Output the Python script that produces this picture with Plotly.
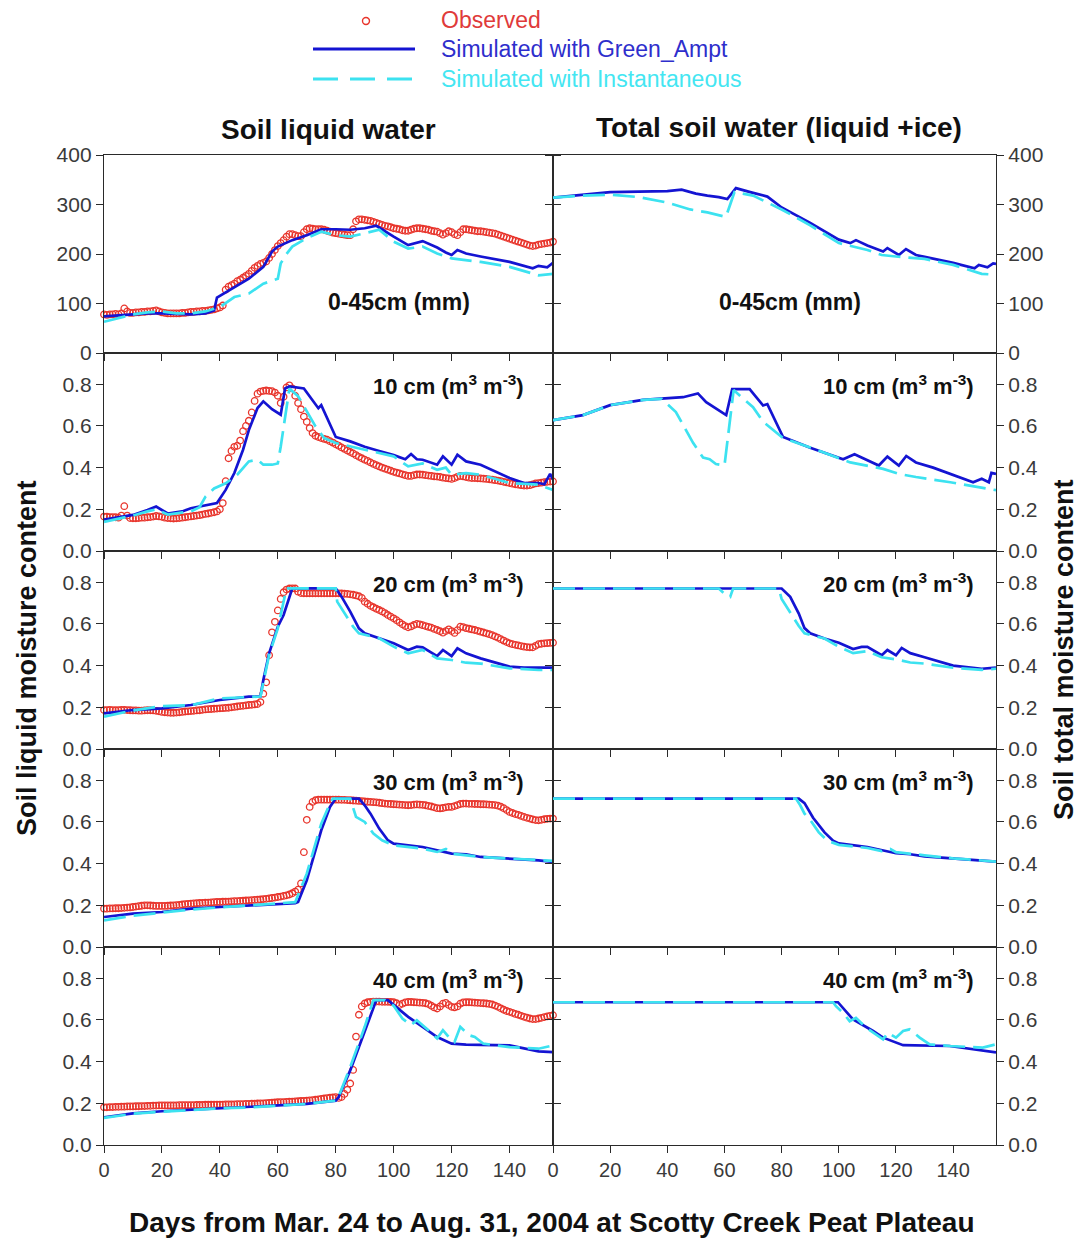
import plotly.graph_objects as go
from plotly.subplots import make_subplots

# ---------------------------------------------------------------
# Data: Scotty Creek Peat Plateau, days from Mar. 24 to Aug. 31, 2004
# ---------------------------------------------------------------
DAYS = list(range(156))

# Observed soil liquid water (daily)
OBS_0_45 = [
    78, 77, 78, 78, 79, 78, 80, 90, 84, 81,
    81, 82, 82, 83, 83, 84, 84, 85, 86, 84,
    82, 81, 80, 80, 80, 80, 80, 81, 81, 82,
    83, 83, 84, 84, 85, 85, 86, 87, 88, 90,
    92, 96, 128, 134, 137, 140, 145, 148, 152, 156,
    160, 166, 172, 176, 180, 182, 185, 192, 200, 208,
    216, 222, 228, 235, 240, 240, 238, 236, 236, 244,
    250, 252, 251, 250, 250, 250, 249, 247, 245, 243,
    242, 241, 240, 239, 238, 238, 250, 266, 270, 270,
    269, 268, 267, 265, 263, 261, 259, 257, 256, 254,
    252, 251, 250, 248, 247, 247, 249, 251, 252, 252,
    251, 250, 249, 247, 246, 245, 242, 239, 242, 246,
    244, 240, 238, 244, 250, 250, 249, 248, 247, 246,
    246, 245, 244, 243, 242, 241, 239, 237, 235, 233,
    231, 229, 227, 225, 223, 221, 219, 217, 216, 217,
    219, 220, 221, 222, 223, 225]

OBS_10 = [
    0.165, 0.165, 0.163, 0.163, 0.162, 0.160, 0.170, 0.215, 0.170, 0.158,
    0.157, 0.157, 0.158, 0.160, 0.160, 0.162, 0.163, 0.165, 0.168, 0.166,
    0.164, 0.160, 0.158, 0.157, 0.156, 0.157, 0.158, 0.160, 0.162, 0.164,
    0.166, 0.168, 0.170, 0.172, 0.175, 0.178, 0.180, 0.183, 0.186, 0.190,
    0.200, 0.230, 0.335, 0.445, 0.480, 0.500, 0.505, 0.530, 0.575, 0.600,
    0.625, 0.665, 0.720, 0.755, 0.765, 0.768, 0.770, 0.768, 0.767, 0.760,
    0.745, 0.710, 0.740, 0.785, 0.795, 0.780, 0.745, 0.710, 0.680, 0.645,
    0.620, 0.590, 0.566, 0.553, 0.547, 0.542, 0.538, 0.534, 0.527, 0.520,
    0.512, 0.505, 0.497, 0.490, 0.482, 0.475, 0.468, 0.460, 0.452, 0.445,
    0.438, 0.432, 0.425, 0.418, 0.412, 0.406, 0.400, 0.395, 0.390, 0.385,
    0.380, 0.376, 0.372, 0.368, 0.364, 0.360, 0.360, 0.364, 0.367, 0.367,
    0.366, 0.364, 0.362, 0.360, 0.358, 0.357, 0.355, 0.352, 0.350, 0.348,
    0.346, 0.350, 0.356, 0.360, 0.358, 0.355, 0.352, 0.350, 0.350, 0.349,
    0.348, 0.347, 0.346, 0.344, 0.342, 0.340, 0.338, 0.335, 0.332, 0.329,
    0.326, 0.323, 0.320, 0.318, 0.316, 0.314, 0.314, 0.316, 0.320, 0.324,
    0.326, 0.328, 0.330, 0.332, 0.333, 0.334]

OBS_20 = [
    0.187, 0.187, 0.188, 0.187, 0.186, 0.187, 0.188, 0.188, 0.187, 0.186,
    0.185, 0.185, 0.184, 0.184, 0.185, 0.186, 0.186, 0.185, 0.183, 0.181,
    0.178, 0.176, 0.175, 0.174, 0.174, 0.175, 0.176, 0.178, 0.180, 0.181,
    0.182, 0.183, 0.185, 0.186, 0.188, 0.190, 0.191, 0.192, 0.193, 0.194,
    0.195, 0.196, 0.197, 0.198, 0.200, 0.202, 0.204, 0.206, 0.207, 0.209,
    0.211, 0.212, 0.214, 0.216, 0.225, 0.265, 0.320, 0.450, 0.560, 0.610,
    0.665, 0.720, 0.752, 0.765, 0.770, 0.771, 0.770, 0.755, 0.748, 0.747,
    0.747, 0.747, 0.747, 0.747, 0.747, 0.747, 0.747, 0.747, 0.747, 0.747,
    0.747, 0.747, 0.746, 0.745, 0.744, 0.742, 0.740, 0.737, 0.733, 0.725,
    0.707, 0.697, 0.687, 0.680, 0.673, 0.667, 0.660, 0.652, 0.643, 0.635,
    0.627, 0.618, 0.608, 0.598, 0.590, 0.584, 0.588, 0.595, 0.600, 0.598,
    0.594, 0.590, 0.586, 0.582, 0.576, 0.571, 0.565, 0.558, 0.566, 0.574,
    0.566, 0.557, 0.570, 0.587, 0.585, 0.580, 0.577, 0.574, 0.571, 0.567,
    0.563, 0.559, 0.555, 0.551, 0.546, 0.540, 0.534, 0.527, 0.520, 0.513,
    0.507, 0.503, 0.500, 0.497, 0.494, 0.491, 0.489, 0.488, 0.488, 0.495,
    0.503, 0.505, 0.507, 0.508, 0.509, 0.510]

OBS_30 = [
    0.184, 0.184, 0.185, 0.185, 0.186, 0.186, 0.187, 0.188, 0.189, 0.190,
    0.192, 0.194, 0.196, 0.198, 0.200, 0.200, 0.199, 0.198, 0.197, 0.197,
    0.197, 0.197, 0.198, 0.199, 0.200, 0.201, 0.202, 0.204, 0.206, 0.207,
    0.208, 0.209, 0.210, 0.211, 0.212, 0.213, 0.213, 0.214, 0.215, 0.216,
    0.216, 0.217, 0.218, 0.218, 0.219, 0.220, 0.220, 0.221, 0.222, 0.223,
    0.224, 0.225, 0.226, 0.227, 0.228, 0.230, 0.231, 0.233, 0.235, 0.237,
    0.240, 0.242, 0.245, 0.248, 0.252, 0.258, 0.266, 0.275, 0.305, 0.455,
    0.610, 0.672, 0.696, 0.704, 0.707, 0.707, 0.707, 0.707, 0.707, 0.707,
    0.707, 0.707, 0.706, 0.706, 0.705, 0.704, 0.703, 0.702, 0.701, 0.700,
    0.698, 0.697, 0.696, 0.695, 0.694, 0.692, 0.690, 0.688, 0.687, 0.686,
    0.685, 0.684, 0.683, 0.682, 0.681, 0.680, 0.681, 0.683, 0.684, 0.683,
    0.682, 0.680, 0.677, 0.674, 0.670, 0.666, 0.665, 0.667, 0.670, 0.672,
    0.672, 0.676, 0.681, 0.686, 0.688, 0.688, 0.687, 0.687, 0.686, 0.686,
    0.685, 0.685, 0.684, 0.683, 0.682, 0.681, 0.678, 0.673, 0.666, 0.657,
    0.648, 0.643, 0.638, 0.634, 0.629, 0.624, 0.620, 0.616, 0.612, 0.609,
    0.608, 0.610, 0.613, 0.615, 0.616, 0.616]

OBS_40 = [
    0.181, 0.181, 0.182, 0.182, 0.183, 0.183, 0.184, 0.184, 0.185, 0.185,
    0.185, 0.186, 0.186, 0.187, 0.187, 0.188, 0.188, 0.189, 0.189, 0.190,
    0.190, 0.190, 0.190, 0.190, 0.190, 0.190, 0.191, 0.191, 0.191, 0.191,
    0.191, 0.191, 0.192, 0.192, 0.192, 0.193, 0.193, 0.193, 0.194, 0.194,
    0.194, 0.194, 0.195, 0.195, 0.195, 0.195, 0.196, 0.196, 0.196, 0.197,
    0.197, 0.198, 0.198, 0.199, 0.200, 0.200, 0.201, 0.202, 0.203, 0.204,
    0.205, 0.206, 0.206, 0.207, 0.208, 0.208, 0.209, 0.210, 0.211, 0.212,
    0.213, 0.214, 0.215, 0.217, 0.219, 0.221, 0.223, 0.225, 0.227, 0.228,
    0.230, 0.226, 0.230, 0.245, 0.265, 0.295, 0.360, 0.520, 0.625, 0.665,
    0.679, 0.685, 0.687, 0.688, 0.688, 0.688, 0.687, 0.687, 0.687, 0.686,
    0.685, 0.680, 0.672, 0.678, 0.684, 0.686, 0.686, 0.685, 0.684, 0.683,
    0.682, 0.680, 0.676, 0.668, 0.660, 0.655, 0.665, 0.678, 0.682, 0.672,
    0.663, 0.660, 0.665, 0.678, 0.684, 0.685, 0.685, 0.684, 0.683, 0.682,
    0.681, 0.680, 0.679, 0.677, 0.674, 0.669, 0.663, 0.656, 0.649, 0.643,
    0.639, 0.634, 0.629, 0.625, 0.620, 0.615, 0.611, 0.607, 0.604, 0.604,
    0.607, 0.610, 0.614, 0.617, 0.620, 0.623]

# Simulated with Green_Ampt (GA) and Instantaneous (INST) infiltration
# "LIQ" = soil liquid water, "TOT" = total soil water (liquid + ice)
GA_LIQ_0_45_DAY = [0, 5, 10, 15, 20, 25, 30, 35, 38, 39, 42, 45, 50, 55, 58, 60, 65, 70, 75,
                   80, 85, 90, 94, 100, 105, 110, 115, 118, 120, 122, 125, 130, 140, 148,
                   150, 153, 155]
GA_LIQ_0_45 = [74, 76, 78, 80, 80, 79, 78, 80, 86, 112, 122, 132, 150, 174, 205, 215, 228,
               238, 250, 250, 249, 252, 257, 235, 218, 226, 213, 203, 198, 208, 201, 195,
               184, 171, 176, 173, 182]
INST_LIQ_0_45_DAY = [0, 5, 10, 15, 20, 25, 30, 35, 40, 45, 50, 55, 58, 60, 61, 63, 65, 70,
                     75, 80, 85, 90, 95, 100, 105, 110, 115, 120, 125, 130, 140, 150, 155]
INST_LIQ_0_45 = [63, 70, 78, 82, 84, 80, 80, 84, 93, 113, 120, 140, 146, 150, 181, 200, 215,
                 232, 245, 238, 235, 242, 249, 225, 211, 215, 201, 191, 188, 184, 174, 157, 160]
GA_TOT_0_45_DAY = [0, 10, 20, 30, 40, 45, 50, 54, 58, 61, 63, 64, 69, 75, 80, 90, 100, 104,
                   106, 110, 115.5, 117, 121, 123.5, 127, 133, 140, 147.5, 149, 152, 154, 155]
GA_TOT_0_45 = [314, 320, 325, 326, 327, 330, 322, 318, 315, 311, 325, 333, 325, 316, 294,
               263, 229, 222, 228, 217, 205, 212, 198, 210, 198, 191, 182, 171, 178, 173,
               181, 180]
INST_TOT_0_45_DAY = [0, 10, 20, 30, 40, 48, 54, 60.5, 62, 63.5, 70, 80, 90, 100, 110, 115,
                     120, 130, 140, 150, 155]
INST_TOT_0_45 = [314, 318, 320, 315, 304, 290, 284, 275, 300, 325, 318, 290, 258, 222, 208,
                 198, 195, 190, 178, 160, 158]

GA_LIQ_10_DAY = [0, 5, 10, 15, 18, 22, 27, 30, 35, 39, 42, 45, 48, 50, 53, 55, 58, 61, 62.5,
                 64, 69, 73, 74, 75, 80, 85, 90, 95, 100, 104, 106, 108, 110, 115, 117, 120,
                 122, 125, 130, 140, 145, 150, 152, 154, 155]
GA_LIQ_10 = [0.150, 0.160, 0.173, 0.197, 0.213, 0.180, 0.190, 0.205, 0.220, 0.230, 0.293,
             0.374, 0.486, 0.580, 0.686, 0.718, 0.680, 0.654, 0.780, 0.790, 0.780, 0.700,
             0.685, 0.700, 0.547, 0.526, 0.500, 0.480, 0.460, 0.440, 0.465, 0.440, 0.438,
             0.414, 0.454, 0.414, 0.462, 0.430, 0.414, 0.350, 0.326, 0.326, 0.320, 0.370,
             0.342]
INST_LIQ_10_DAY = [0, 5, 10, 15, 18, 22, 30, 33, 35, 38, 42, 46, 50, 53, 55, 58, 60, 61,
                   62.5, 64, 67, 70, 73, 76, 80, 90, 100, 105, 110, 115, 118, 120, 125, 130,
                   140, 150, 155]
INST_LIQ_10 = [0.140, 0.155, 0.170, 0.190, 0.200, 0.175, 0.190, 0.210, 0.260, 0.300, 0.325,
               0.366, 0.430, 0.438, 0.414, 0.414, 0.420, 0.500, 0.646, 0.780, 0.743, 0.670,
               0.598, 0.542, 0.518, 0.486, 0.454, 0.406, 0.420, 0.390, 0.400, 0.366, 0.374,
               0.366, 0.326, 0.318, 0.293]
GA_TOT_10_DAY = [0, 10.5, 20, 31.5, 45.5, 50.7, 53.6, 60.6, 62.7, 68.8, 73.5, 75, 80.5, 90,
                 101.5, 105.5, 114, 117, 121, 123.6, 127, 133, 147, 150, 152.5, 153.4, 155]
GA_TOT_10 = [0.628, 0.652, 0.700, 0.725, 0.738, 0.756, 0.714, 0.652, 0.777, 0.777, 0.698,
             0.705, 0.547, 0.495, 0.440, 0.464, 0.410, 0.453, 0.410, 0.456, 0.425, 0.400,
             0.330, 0.347, 0.330, 0.375, 0.370]
INST_TOT_10_DAY = [0, 10.5, 20, 31.5, 38, 43, 49, 52.5, 54.8, 57, 60, 61.8, 63.2, 70, 73.5,
                   80.5, 92, 104, 115.5, 121, 127, 139, 148, 155]
INST_TOT_10 = [0.628, 0.652, 0.700, 0.725, 0.730, 0.667, 0.519, 0.448, 0.440, 0.417, 0.410,
               0.605, 0.772, 0.690, 0.620, 0.542, 0.487, 0.425, 0.394, 0.370, 0.355, 0.330,
               0.308, 0.292]

GA_LIQ_20_DAY = [0, 10, 20, 30, 40, 45, 50, 54, 55, 57, 60, 62, 65, 80, 82, 85, 88, 90, 95,
                 100, 105, 108, 110, 115, 117, 120, 122, 125, 130, 140, 145, 155]
GA_LIQ_20 = [0.171, 0.187, 0.195, 0.211, 0.235, 0.243, 0.251, 0.252, 0.331, 0.459, 0.587,
             0.643, 0.771, 0.771, 0.731, 0.659, 0.579, 0.555, 0.531, 0.507, 0.475, 0.491,
             0.488, 0.446, 0.475, 0.446, 0.483, 0.459, 0.435, 0.395, 0.390, 0.390]
INST_LIQ_20_DAY = [0, 10, 20, 30, 40, 50, 54, 57, 60, 63, 80, 80.5, 83, 86, 88, 95, 100, 105,
                   110, 115, 120, 125, 130, 140, 150, 155]
INST_LIQ_20 = [0.155, 0.185, 0.206, 0.210, 0.243, 0.250, 0.252, 0.451, 0.579, 0.771, 0.771,
               0.707, 0.651, 0.587, 0.555, 0.531, 0.491, 0.459, 0.475, 0.435, 0.427, 0.414,
               0.410, 0.387, 0.379, 0.379]
GA_TOT_20_DAY = [0, 80, 83, 86, 88, 90, 95, 100, 105, 108, 110, 115, 117, 120, 122, 125, 130,
                 140, 150, 155]
GA_TOT_20 = [0.770, 0.770, 0.730, 0.650, 0.580, 0.555, 0.530, 0.510, 0.480, 0.490, 0.490,
             0.450, 0.475, 0.450, 0.485, 0.460, 0.440, 0.400, 0.385, 0.390]
INST_TOT_20_DAY = [0, 58, 60, 62, 63, 79, 80, 83, 86, 88, 95, 100, 105, 110, 115, 120, 125,
                   130, 140, 150, 155]
INST_TOT_20 = [0.770, 0.770, 0.745, 0.730, 0.770, 0.770, 0.720, 0.655, 0.590, 0.555, 0.530,
               0.490, 0.460, 0.470, 0.440, 0.430, 0.415, 0.410, 0.390, 0.380, 0.385]

GA_LIQ_30_DAY = [0, 10, 20, 30, 40, 50, 60, 66, 67, 70, 75, 78, 80, 88, 90, 92, 95, 98, 100,
                 110, 120, 125, 130, 140, 150, 155]
GA_LIQ_30 = [0.144, 0.160, 0.168, 0.184, 0.192, 0.200, 0.208, 0.210, 0.216, 0.320, 0.560,
             0.672, 0.712, 0.712, 0.680, 0.640, 0.568, 0.512, 0.496, 0.480, 0.448, 0.445,
             0.432, 0.424, 0.416, 0.408]
INST_LIQ_30_DAY = [0, 10, 20, 30, 40, 50, 60, 66, 70, 75, 78, 79, 85, 86, 87, 90, 93, 96, 100,
                   110, 115, 118, 120, 130, 140, 155]
INST_LIQ_30 = [0.128, 0.150, 0.165, 0.180, 0.190, 0.200, 0.210, 0.215, 0.352, 0.592, 0.688,
               0.712, 0.712, 0.670, 0.624, 0.600, 0.544, 0.512, 0.488, 0.472, 0.456, 0.470,
               0.448, 0.432, 0.424, 0.413]
GA_TOT_30_DAY = [0, 86, 88, 91, 95, 98, 100, 110, 120, 125, 130, 140, 150, 155]
GA_TOT_30 = [0.712, 0.712, 0.690, 0.620, 0.550, 0.510, 0.497, 0.480, 0.450, 0.445, 0.435,
             0.425, 0.415, 0.410]
INST_TOT_30_DAY = [0, 85, 86.5, 88, 90, 93, 96, 100, 110, 115, 118, 120, 130, 140, 150, 155]
INST_TOT_30 = [0.712, 0.712, 0.680, 0.640, 0.610, 0.550, 0.510, 0.490, 0.475, 0.460, 0.470,
               0.455, 0.440, 0.425, 0.415, 0.410]

GA_LIQ_40_DAY = [0, 10, 20, 30, 40, 50, 60, 70, 80, 81, 85, 90, 94, 98, 100, 105, 110, 115,
                 120, 125, 140, 145, 150, 155]
GA_LIQ_40 = [0.133, 0.152, 0.162, 0.169, 0.177, 0.181, 0.190, 0.197, 0.213, 0.230, 0.358,
             0.550, 0.695, 0.695, 0.671, 0.615, 0.567, 0.518, 0.486, 0.482, 0.478, 0.462,
             0.449, 0.446]
INST_LIQ_40_DAY = [0, 10, 20, 30, 40, 50, 60, 70, 80, 81, 85, 90, 93, 97, 100, 103, 106, 108,
                   112, 115, 117, 119, 121, 123, 126, 128, 131, 140, 150, 155]
INST_LIQ_40 = [0.130, 0.150, 0.160, 0.168, 0.176, 0.180, 0.190, 0.197, 0.213, 0.232, 0.374,
               0.567, 0.695, 0.695, 0.668, 0.607, 0.575, 0.599, 0.551, 0.511, 0.551, 0.518,
               0.494, 0.567, 0.527, 0.518, 0.486, 0.470, 0.462, 0.478]
GA_TOT_40_DAY = [0, 99.7, 105, 112, 115.5, 122.5, 138.8, 150.4, 155]
GA_TOT_40 = [0.685, 0.685, 0.602, 0.547, 0.515, 0.479, 0.475, 0.452, 0.444]
INST_TOT_40_DAY = [0, 98, 99, 101.5, 103.8, 106, 109.6, 115.5, 117.2, 120, 122.5, 124.8,
                   128.3, 131.8, 138.8, 150.4, 155]
INST_TOT_40 = [0.685, 0.685, 0.666, 0.634, 0.594, 0.610, 0.563, 0.507, 0.539, 0.515, 0.547,
               0.555, 0.515, 0.483, 0.475, 0.467, 0.483]

DEPTH_LABELS = ["0-45cm (mm)", "10 cm (m<sup>3</sup> m<sup>-3</sup>)",
                "20 cm (m<sup>3</sup> m<sup>-3</sup>)", "30 cm (m<sup>3</sup> m<sup>-3</sup>)",
                "40 cm (m<sup>3</sup> m<sup>-3</sup>)"]
COLUMN_TITLES = ["Soil liquid water", "Total soil water (liquid +ice)"]
X_TICKS = [0, 20, 40, 60, 80, 100, 120, 140]
MM_TICKS = [0, 100, 200, 300, 400]
VWC_TICKS = [0.0, 0.2, 0.4, 0.6, 0.8]

OBSERVED = [OBS_0_45, OBS_10, OBS_20, OBS_30, OBS_40]
GA_LIQ = [(GA_LIQ_0_45_DAY, GA_LIQ_0_45), (GA_LIQ_10_DAY, GA_LIQ_10), (GA_LIQ_20_DAY, GA_LIQ_20),
          (GA_LIQ_30_DAY, GA_LIQ_30), (GA_LIQ_40_DAY, GA_LIQ_40)]
INST_LIQ = [(INST_LIQ_0_45_DAY, INST_LIQ_0_45), (INST_LIQ_10_DAY, INST_LIQ_10),
            (INST_LIQ_20_DAY, INST_LIQ_20), (INST_LIQ_30_DAY, INST_LIQ_30),
            (INST_LIQ_40_DAY, INST_LIQ_40)]
GA_TOT = [(GA_TOT_0_45_DAY, GA_TOT_0_45), (GA_TOT_10_DAY, GA_TOT_10), (GA_TOT_20_DAY, GA_TOT_20),
          (GA_TOT_30_DAY, GA_TOT_30), (GA_TOT_40_DAY, GA_TOT_40)]
INST_TOT = [(INST_TOT_0_45_DAY, INST_TOT_0_45), (INST_TOT_10_DAY, INST_TOT_10),
            (INST_TOT_20_DAY, INST_TOT_20), (INST_TOT_30_DAY, INST_TOT_30),
            (INST_TOT_40_DAY, INST_TOT_40)]

# ---------------------------------------------------------------
# Styling
# ---------------------------------------------------------------
RED = "#E8352C"
BLUE = "#1414D2"
CYAN = "#3CE2F0"
AXIS = "#2a2a2a"
TICKTXT = "#3a3a3a"
FONT = "Arial, Liberation Sans, sans-serif"
CYAN_DASH = "22px,8px"

W, H = 1080, 1242
ML, MR, MT, MB = 104, 84, 155, 97
PW, PH = W - ML - MR, H - MT - MB


def px_x(px):
    return (px - ML) / PW


def px_y(py):
    return (H - MB - py) / PH


fig = make_subplots(rows=5, cols=2, horizontal_spacing=0, vertical_spacing=0,
                    column_widths=[449, 443])

for r in range(5):
    row = r + 1
    # left column: liquid water, with observations
    fig.add_trace(go.Scatter(x=DAYS, y=OBSERVED[r], mode="markers", cliponaxis=False,
                             marker=dict(symbol="circle-open", size=6.5, color=RED,
                                         line=dict(width=1.3, color=RED)),
                             showlegend=False), row=row, col=1)
    fig.add_trace(go.Scatter(x=GA_LIQ[r][0], y=GA_LIQ[r][1], mode="lines",
                             line=dict(color=BLUE, width=2.7), showlegend=False),
                  row=row, col=1)
    fig.add_trace(go.Scatter(x=INST_LIQ[r][0], y=INST_LIQ[r][1], mode="lines",
                             line=dict(color=CYAN, width=2.7, dash=CYAN_DASH), showlegend=False),
                  row=row, col=1)
    # right column: total water (liquid + ice)
    fig.add_trace(go.Scatter(x=GA_TOT[r][0], y=GA_TOT[r][1], mode="lines",
                             line=dict(color=BLUE, width=2.7), showlegend=False),
                  row=row, col=2)
    fig.add_trace(go.Scatter(x=INST_TOT[r][0], y=INST_TOT[r][1], mode="lines",
                             line=dict(color=CYAN, width=2.7, dash=CYAN_DASH), showlegend=False),
                  row=row, col=2)

for r in range(5):
    row = r + 1
    for c in (1, 2):
        last = row == 5
        fig.update_xaxes(range=[0, 155], tickvals=X_TICKS, showticklabels=last,
                         ticks="outside", ticklen=7, tickwidth=1.3, tickcolor=AXIS,
                         showline=True, linecolor=AXIS, linewidth=1.3, mirror=True,
                         showgrid=False, zeroline=False,
                         tickfont=dict(family=FONT, size=20, color=TICKTXT),
                         row=row, col=c)
        if row == 1:
            fig.update_yaxes(range=[0, 400], tickvals=MM_TICKS,
                             ticktext=[str(v) for v in MM_TICKS], row=row, col=c)
        else:
            fig.update_yaxes(range=[0, 0.95], tickvals=VWC_TICKS,
                             ticktext=["%.1f" % v for v in VWC_TICKS], row=row, col=c)
        fig.update_yaxes(side="left" if c == 1 else "right", ticks="outside", ticklen=7,
                         tickwidth=1.3, tickcolor=AXIS, showline=True, linecolor=AXIS,
                         linewidth=1.3, mirror="ticks", showgrid=False, zeroline=False,
                         tickfont=dict(family=FONT, size=21, color=TICKTXT),
                         row=row, col=c)

# inward ticks along the top edge of the first row
fig.update_layout(
    xaxis11=dict(overlaying="x", anchor="y", side="top", range=[0, 155], tickvals=X_TICKS,
                 ticks="inside", ticklen=7, tickwidth=1.3, tickcolor=AXIS,
                 showticklabels=False, showgrid=False, zeroline=False, showline=False),
    xaxis12=dict(overlaying="x2", anchor="y2", side="top", range=[0, 155], tickvals=X_TICKS,
                 ticks="inside", ticklen=7, tickwidth=1.3, tickcolor=AXIS,
                 showticklabels=False, showgrid=False, zeroline=False, showline=False),
)

annotations = []
# depth labels inside each panel
for r in range(5):
    for c in (1, 2):
        idx = r * 2 + c
        xname = "x" if idx == 1 else "x%d" % idx
        yname = "y" if idx == 1 else "y%d" % idx
        if r == 0:
            ax_x = 0.657 if c == 1 else 0.535
            annotations.append(dict(text="<b>%s</b>" % DEPTH_LABELS[r], xref=xname + " domain",
                                    yref=yname + " domain", x=ax_x, y=0.26, xanchor="center",
                                    yanchor="middle", showarrow=False,
                                    font=dict(family=FONT, size=23, color="#111")))
        else:
            ax_x = 0.94 if c == 1 else 0.955
            annotations.append(dict(text="<b>%s</b>" % DEPTH_LABELS[r], xref=xname + " domain",
                                    yref=yname + " domain", x=ax_x, y=0.84, xanchor="right",
                                    yanchor="middle", showarrow=False,
                                    font=dict(family=FONT, size=22, color="#111")))

# column titles
annotations.append(dict(text="<b>%s</b>" % COLUMN_TITLES[0], xref="paper", yref="paper",
                        x=px_x(328), y=px_y(130), showarrow=False, xanchor="center",
                        yanchor="middle", font=dict(family=FONT, size=28, color="#111")))
annotations.append(dict(text="<b>%s</b>" % COLUMN_TITLES[1], xref="paper", yref="paper",
                        x=px_x(779), y=px_y(128), showarrow=False, xanchor="center",
                        yanchor="middle", font=dict(family=FONT, size=28, color="#111")))
# axis titles
annotations.append(dict(text="<b>Days from Mar. 24 to Aug. 31, 2004 at Scotty Creek Peat Plateau</b>",
                        xref="paper", yref="paper", x=px_x(552), y=px_y(1222), showarrow=False,
                        xanchor="center", yanchor="middle",
                        font=dict(family=FONT, size=28, color="#111")))
annotations.append(dict(text="<b>Soil liquid moisture content</b>", xref="paper", yref="paper",
                        x=px_x(27), y=px_y(658), textangle=-90, showarrow=False,
                        xanchor="center", yanchor="middle",
                        font=dict(family=FONT, size=27, color="#111")))
annotations.append(dict(text="<b>Soil total moisture content</b>", xref="paper", yref="paper",
                        x=px_x(1064), y=px_y(650), textangle=-90, showarrow=False,
                        xanchor="center", yanchor="middle",
                        font=dict(family=FONT, size=27, color="#111")))

# legend block at the top
LEGEND_ITEMS = [("Observed", "#E03A3A"), ("Simulated with Green_Ampt", "#2E2ECC"),
                ("Simulated with Instantaneous", "#44E6F2")]
LEGEND_ROWS = [20, 49, 79]
for (label, colr), ly in zip(LEGEND_ITEMS, LEGEND_ROWS):
    annotations.append(dict(text=label, xref="paper", yref="paper", x=px_x(439), y=px_y(ly),
                            xanchor="left", yanchor="middle", showarrow=False,
                            font=dict(family=FONT, size=23, color=colr)))

shapes = [
    dict(type="circle", xref="paper", yref="paper", x0=px_x(362.5), x1=px_x(369.5),
         y0=px_y(24.5), y1=px_y(17.5), line=dict(color=RED, width=1.4)),
    dict(type="line", xref="paper", yref="paper", x0=px_x(313), x1=px_x(415),
         y0=px_y(49), y1=px_y(49), line=dict(color=BLUE, width=3)),
    dict(type="line", xref="paper", yref="paper", x0=px_x(313), x1=px_x(412),
         y0=px_y(79), y1=px_y(79), line=dict(color=CYAN, width=3, dash="25px,12px")),
]

fig.update_layout(
    width=W, height=H,
    margin=dict(l=ML, r=MR, t=MT, b=MB),
    paper_bgcolor="white", plot_bgcolor="white",
    annotations=annotations, shapes=shapes,
    showlegend=False,
    font=dict(family=FONT, color="#111"),
)

fig.write_html("out.html")
